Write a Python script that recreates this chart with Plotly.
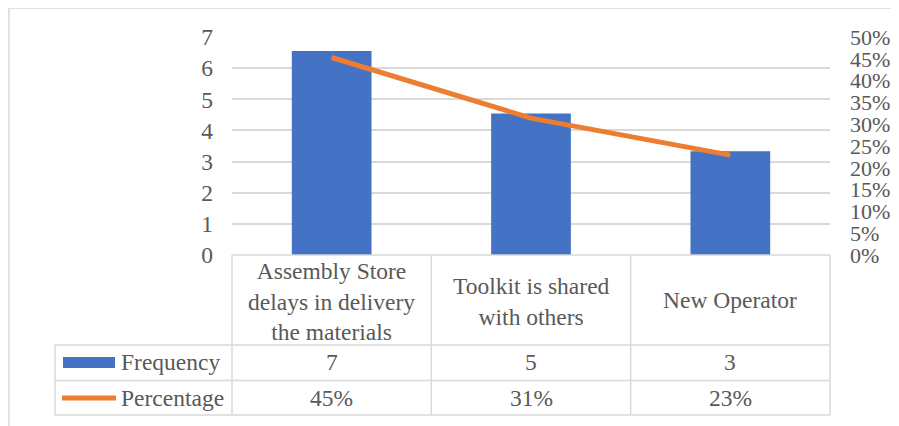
import plotly.graph_objects as go

categories = ["Assembly Store<br>delays in delivery<br>the materials",
              "Toolkit is shared<br>with others",
              "New Operator"]
bar_values = [6.55, 4.54, 3.33]
pct_values = [0.453, 0.314, 0.229]
freq_labels = ["7", "5", "3"]
pct_labels = ["45%", "31%", "23%"]
series_names = ["Frequency", "Percentage"]

OFF = 8  # page body margin
W, H = 899 - OFF, 426 - OFF
# plot area in reference (window) pixels
L, R, T, B = 232, 830, 37, 255
FONT = "Liberation Serif, Times New Roman, serif"
GRAY = "#595959"
LINEC = "#d9d9d9"
BLUE = "#4472C4"
ORANGE = "#ED7D31"


def px(x):
    return (x - L) / (R - L)


def py(y):
    return (B - y) / (B - T)


x_idx = list(range(len(categories)))

fig = go.Figure()
fig.add_trace(go.Bar(x=x_idx, y=bar_values, marker=dict(color=BLUE, line=dict(width=0)),
                     width=0.4, name=series_names[0], hoverinfo="skip"))
fig.add_trace(go.Scatter(x=x_idx, y=pct_values, yaxis="y2", mode="lines",
                         line=dict(color=ORANGE, width=5), name=series_names[1],
                         hoverinfo="skip"))

shapes = []
annotations = []

# outer chart border
shapes.append(dict(type="line", xref="paper", yref="paper", x0=px(9), x1=px(899),
                   y0=py(8), y1=py(8), line=dict(color=LINEC, width=1.5)))
shapes.append(dict(type="line", xref="paper", yref="paper", x0=px(9), x1=px(9),
                   y0=py(8), y1=py(426), line=dict(color=LINEC, width=1.5)))

# table lines
col_x = [L + (R - L) * i / len(categories) for i in range(len(categories) + 1)]
row_y = [345, 380.5, 415]
for yy in row_y:
    shapes.append(dict(type="line", xref="paper", yref="paper", x0=px(55), x1=px(R),
                       y0=py(yy), y1=py(yy), line=dict(color=LINEC, width=1.5)))
shapes.append(dict(type="line", xref="paper", yref="paper", x0=px(L), x1=px(R),
                   y0=py(B), y1=py(B), line=dict(color=LINEC, width=1.5)))
for cx in col_x:
    shapes.append(dict(type="line", xref="paper", yref="paper", x0=px(cx), x1=px(cx),
                       y0=py(B), y1=py(415), line=dict(color=LINEC, width=1.5)))
shapes.append(dict(type="line", xref="paper", yref="paper", x0=px(55), x1=px(55),
                   y0=py(345), y1=py(415), line=dict(color=LINEC, width=1.5)))

# legend keys
shapes.append(dict(type="rect", xref="paper", yref="paper", x0=px(63), x1=px(115),
                   y0=py(368), y1=py(357), fillcolor=BLUE, line=dict(width=0)))
shapes.append(dict(type="line", xref="paper", yref="paper", x0=px(62), x1=px(116),
                   y0=py(398), y1=py(398), line=dict(color=ORANGE, width=5)))

font = dict(family=FONT, size=23.5, color=GRAY)
annotations.append(dict(x=px(119), y=py(362), xref="paper", yref="paper", text=series_names[0],
                        showarrow=False, xanchor="left", yanchor="middle", font=font))
annotations.append(dict(x=px(119), y=py(398), xref="paper", yref="paper", text=series_names[1],
                        showarrow=False, xanchor="left", yanchor="middle", font=font))

cat_y = [301, 301, 300]
for i, cat in enumerate(categories):
    cx = (col_x[i] + col_x[i + 1]) / 2
    annotations.append(dict(x=px(cx), y=py(cat_y[i]), xref="paper", yref="paper", text=cat,
                            showarrow=False, xanchor="center", yanchor="middle",
                            font=font, align="center"))
    annotations.append(dict(x=px(cx), y=py(362), xref="paper", yref="paper", text=freq_labels[i],
                            showarrow=False, xanchor="center", yanchor="middle", font=font))
    annotations.append(dict(x=px(cx), y=py(398), xref="paper", yref="paper", text=pct_labels[i],
                            showarrow=False, xanchor="center", yanchor="middle", font=font))

fig.update_layout(
    width=W, height=H,
    margin=dict(l=L - OFF, r=W - (R - OFF), t=T - OFF, b=H - (B - OFF), pad=0,
                autoexpand=False),
    paper_bgcolor="white", plot_bgcolor="white",
    showlegend=False,
    bargap=0.6,
    xaxis=dict(range=[-0.5, len(categories) - 0.5], showticklabels=False, showgrid=False,
               zeroline=False, showline=False, ticks="", fixedrange=True, automargin=False),
    yaxis=dict(range=[0, 7], dtick=1, tick0=0, showgrid=True, gridcolor=LINEC, gridwidth=1.5,
               zeroline=False, showline=False, ticks="", ticklabelstandoff=18, automargin=False,
               tickfont=dict(family=FONT, size=23.5, color=GRAY)),
    yaxis2=dict(range=[0, 0.5], dtick=0.05, tick0=0, overlaying="y", side="right",
                tickformat=".0%", showgrid=False, zeroline=False, showline=False, ticks="",
                ticklabelstandoff=19, automargin=False,
                tickfont=dict(family=FONT, size=22, color=GRAY)),
    shapes=shapes,
    annotations=annotations,
)

fig.write_html("out.html")
